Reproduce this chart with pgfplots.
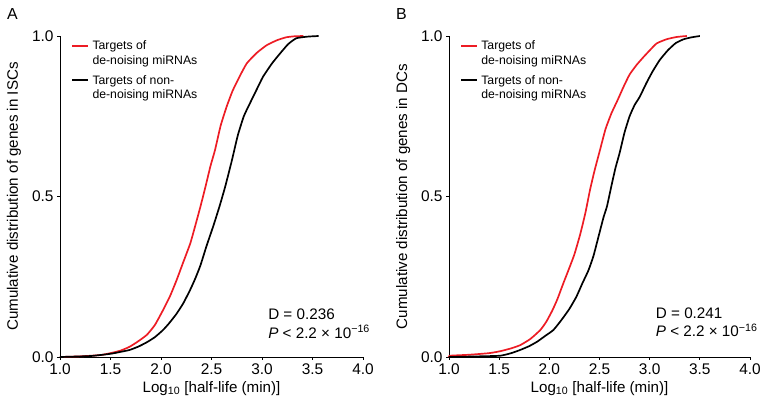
\documentclass[border=0pt]{standalone}
\usepackage{pgfplots}
\pgfplotsset{compat=1.18}
\usepackage{fontspec}
\setmainfont{Liberation Sans}
\definecolor{cred}{RGB}{237,28,36}
\tikzset{
  legtxt/.style={anchor=north west, inner sep=0pt, align=left, font=\fontsize{12.3}{14.5}\selectfont},
  anntxt/.style={anchor=north west, inner sep=0pt, align=left, font=\fontsize{15.3}{18.5}\selectfont},
}
\pgfplotsset{
  cdfax/.style={
    scale only axis, width=303bp, height=321bp,
    xmin=1, xmax=4, ymin=0, ymax=1,
    axis x line*=bottom, axis y line*=left,
    axis line style={line width=0.9pt, -},
    tick align=outside, major tick length=3bp,
    tick style={line width=0.8pt, black},
    xtick={1,1.5,...,4}, ytick={0,0.5,1},
    xticklabel style={/pgf/number format/.cd, fixed, fixed zerofill, precision=1},
    yticklabel style={/pgf/number format/.cd, fixed, fixed zerofill, precision=1},
    /pgf/number format/assume math mode=true,
    ticklabel style={font=\fontsize{15.5}{17}\selectfont},
    label style={font=\fontsize{15.2}{17}\selectfont},
    xlabel={Log\textsubscript{10} [half-life (min)]},
    xlabel style={at={(axis description cs:0.5,-0.097)}, anchor=center},
    ylabel style={at={(axis description cs:-0.152,0.5)}, anchor=center},
    clip=false,
  },
}
\begin{document}
\begin{tikzpicture}
\useasboundingbox (0,0) rectangle (766bp,404bp);
\coordinate (pA) at (60bp,47bp);
\coordinate (pB) at (449bp,47bp);
\node[anchor=north west, font=\fontsize{16}{18}\selectfont, inner sep=0pt] at (7bp,396bp) {A};
\node[anchor=north west, font=\fontsize{16}{18}\selectfont, inner sep=0pt] at (396bp,396bp) {B};
\begin{axis}[cdfax, at={(pA)}, anchor=south west,
  ylabel={Cumulative distribution of genes in ISCs}]
\addplot[cred, line width=1.7pt, smooth, tension=0.3] coordinates {
(1.0,0) (1.2,0.002) (1.4,0.006) (1.5,0.012) (1.6,0.02) (1.69,0.032) (1.77,0.048) (1.86,0.069) (1.94,0.10) (2.02,0.146) (2.09,0.19) (2.155,0.24) (2.22,0.295) (2.29,0.354) (2.34,0.41) (2.39,0.468) (2.44,0.53) (2.49,0.595) (2.535,0.645) (2.59,0.72) (2.65,0.78) (2.71,0.83) (2.78,0.875) (2.85,0.915) (2.95,0.948) (3.05,0.972) (3.15,0.987) (3.24,0.996) (3.32,0.999) (3.41,1.0)};
\addplot[black, line width=1.7pt, smooth, tension=0.3] coordinates {
(1.0,0) (1.3,0.003) (1.5,0.01) (1.6,0.016) (1.69,0.022) (1.78,0.033) (1.86,0.046) (1.94,0.062) (2.02,0.084) (2.08,0.105) (2.15,0.133) (2.22,0.167) (2.29,0.21) (2.34,0.245) (2.39,0.285) (2.45,0.345) (2.52,0.41) (2.58,0.47) (2.635,0.53) (2.70,0.61) (2.76,0.69) (2.82,0.75) (2.88,0.79) (2.95,0.835) (3.01,0.873) (3.10,0.915) (3.18,0.946) (3.26,0.975) (3.34,0.993) (3.45,0.998) (3.56,1.0)};
\node[legtxt] at (axis cs:1.32,0.985) {Targets of\\de-noising miRNAs};
\node[legtxt] at (axis cs:1.32,0.877) {Targets of non-\\de-noising miRNAs};
\draw[cred, line width=2pt] (axis cs:1.12,0.97) -- (axis cs:1.28,0.97);
\draw[black, line width=2pt] (axis cs:1.12,0.862) -- (axis cs:1.28,0.862);
\node[anntxt] at (axis cs:3.06,0.15) {D = 0.236\\\textit{P} < 2.2 × 10\textsuperscript{−16}};
\end{axis}
\begin{axis}[cdfax, at={(pB)}, anchor=south west, width=301bp,
  ylabel={Cumulative distribution of genes in DCs}]
\addplot[cred, line width=1.7pt, smooth, tension=0.3] coordinates {
(1.0,0) (1.01,0.004) (1.2,0.007) (1.4,0.012) (1.51,0.018) (1.62,0.027) (1.71,0.037) (1.81,0.056) (1.91,0.084) (1.97,0.11) (2.03,0.145) (2.08,0.18) (2.14,0.23) (2.19,0.27) (2.25,0.32) (2.31,0.385) (2.36,0.45) (2.405,0.52) (2.45,0.58) (2.505,0.645) (2.56,0.71) (2.62,0.76) (2.68,0.80) (2.74,0.842) (2.80,0.88) (2.87,0.91) (2.94,0.935) (3.0,0.955) (3.07,0.977) (3.17,0.99) (3.27,0.997) (3.37,1.0)};
\addplot[black, line width=1.7pt, smooth, tension=0.3] coordinates {
(1.0,0) (1.3,0.002) (1.51,0.004) (1.62,0.012) (1.71,0.022) (1.80,0.034) (1.88,0.048) (1.96,0.066) (2.04,0.084) (2.12,0.115) (2.2,0.15) (2.27,0.188) (2.33,0.23) (2.39,0.27) (2.44,0.315) (2.49,0.375) (2.54,0.435) (2.575,0.47) (2.62,0.535) (2.66,0.59) (2.70,0.635) (2.75,0.70) (2.80,0.75) (2.85,0.785) (2.90,0.81) (2.97,0.855) (3.03,0.89) (3.10,0.925) (3.18,0.955) (3.26,0.978) (3.34,0.99) (3.42,0.996) (3.5,1.0)};
\node[legtxt] at (axis cs:1.32,0.985) {Targets of\\de-noising miRNAs};
\node[legtxt] at (axis cs:1.32,0.877) {Targets of non-\\de-noising miRNAs};
\draw[cred, line width=2pt] (axis cs:1.12,0.97) -- (axis cs:1.28,0.97);
\draw[black, line width=2pt] (axis cs:1.12,0.862) -- (axis cs:1.28,0.862);
\node[anntxt] at (axis cs:3.06,0.155) {D = 0.241\\\textit{P} < 2.2 × 10\textsuperscript{−16}};
\end{axis}
\end{tikzpicture}
\end{document}
